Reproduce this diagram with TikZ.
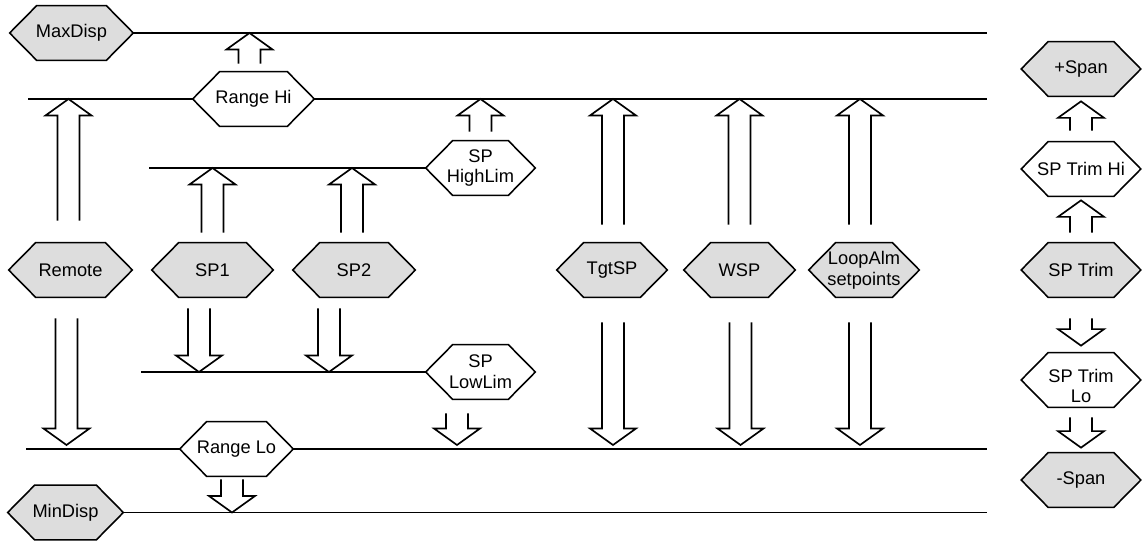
\documentclass[tikz,border=0pt]{standalone}
\usepackage{fontspec}
\setmainfont{Liberation Sans}
\usetikzlibrary{calc,backgrounds}
\definecolor{hexgray}{RGB}{221,221,221}
\newcommand\arrsw{0.22cm}
\newcommand\arrhw{0.46cm}
\newcommand\arrhl{0.33cm}
% block arrows: #1 foot of the shaft, #2 point the tip reaches
\newcommand\arrup[2]{\draw[blk] let \p1=#1, \p2=#2 in
  (\x1-\arrsw,\y1) -- (\x1-\arrsw,\y2-\arrhl) -- (\x1-\arrhw,\y2-\arrhl) -- (\x1,\y2)
  -- (\x1+\arrhw,\y2-\arrhl) -- (\x1+\arrsw,\y2-\arrhl) -- (\x1+\arrsw,\y1);}
\newcommand\arrdn[2]{\draw[blk] let \p1=#1, \p2=#2 in
  (\x1-\arrsw,\y1) -- (\x1-\arrsw,\y2+\arrhl) -- (\x1-\arrhw,\y2+\arrhl) -- (\x1,\y2)
  -- (\x1+\arrhw,\y2+\arrhl) -- (\x1+\arrsw,\y2+\arrhl) -- (\x1+\arrsw,\y1);}
\begin{document}
\begin{tikzpicture}[x=0.02cm, y=0.02cm,
  every node/.style={font=\fontsize{10.4pt}{11.8pt}\selectfont},
  hexn/.style={minimum height=1.08cm, inner sep=0pt, align=center},
  hexline/.style={draw, line width=0.9pt},
  ln/.style={line width=1pt},
  blk/.style={line width=0.95pt}]
\useasboundingbox (0,0) rectangle (1142,541);
% setpoint sources and limits
\node[hexn,minimum width=2.46cm] (maxdisp) at (71.5,508) {MaxDisp};
\node[hexn,minimum width=2.42cm] (rangehi) at (253.5,442) {Range Hi};
\node[hexn,minimum width=2.46cm] (remote) at (70.5,271) {Remote};
\node[hexn,minimum width=2.42cm] (sp1) at (212.5,271) {SP1};
\node[hexn,minimum width=2.44cm] (sp2) at (354,271) {SP2};
\node[hexn,minimum width=2.18cm] (highlim) at (480.5,373) {SP\\HighLim};
\node[hexn,minimum width=2.18cm] (lowlim) at (480.5,169) {SP\\LowLim};
\node[hexn,minimum width=2.20cm] (tgtsp) at (612,271) {TgtSP};
\node[hexn,minimum width=2.22cm] (wsp) at (739.5,271) {WSP};
\node[hexn,minimum width=2.20cm] (loopalm) at (864,271) {LoopAlm\\setpoints};
\node[hexn,minimum width=2.26cm] (rangelo) at (236.5,92) {Range Lo};
\node[hexn,minimum width=2.30cm] (mindisp) at (65.5,28.5) {MinDisp};
% trim column
\node[hexn,minimum width=2.38cm] (plusspan) at (1081,472) {+Span};
\node[hexn,minimum width=2.38cm] (trimhi) at (1081,372) {SP Trim Hi};
\node[hexn,minimum width=2.38cm] (trim) at (1081,271) {SP Trim};
\node[hexn,minimum width=2.38cm,text height=26pt,text depth=0pt] (trimlo) at (1081,161) {SP Trim\\Lo};
\node[hexn,minimum width=2.38cm] (minusspan) at (1081,61) {-Span};
% hexagon outlines behind the texts
\begin{scope}[on background layer]
\foreach \n/\c in {maxdisp/hexgray,rangehi/white,remote/hexgray,sp1/hexgray,sp2/hexgray,
    highlim/white,lowlim/white,tgtsp/hexgray,wsp/hexgray,loopalm/hexgray,rangelo/white,
    mindisp/hexgray,plusspan/hexgray,trimhi/white,trim/hexgray,trimlo/white,minusspan/hexgray}
  \draw[hexline,fill=\c] (\n.west) -- ($(\n.north west)+(27,0)$) -- ($(\n.north east)+(-27,0)$)
    -- (\n.east) -- ($(\n.south east)+(-27,0)$) -- ($(\n.south west)+(27,0)$) -- cycle;
\end{scope}
% limit lines
\coordinate (maxR) at (987,508);
\coordinate (hiL) at (28,442);
\coordinate (hiR) at (987,442);
\coordinate (hlL) at (149,373);
\coordinate (llL) at (141,169);
\coordinate (loL) at (26,92);
\coordinate (loR) at (987,92);
\coordinate (minR) at (987,28.5);
\draw[ln] (maxdisp.east) -- (maxR);
\draw[ln] (hiL) -- (rangehi.west);
\draw[ln] (rangehi.east) -- (hiR);
\draw[ln] (hlL) -- (highlim.west);
\draw[ln] (llL) -- (lowlim.west);
\draw[ln] (loL) -- (rangelo.west);
\draw[ln] (rangelo.east) -- (loR);
\draw[ln] (mindisp.east) -- (minR);
% up arrows
\arrup{($(rangehi.north)+(-4,8)$)}{(maxR)}
\arrup{($(remote.north)+(-2,22)$)}{(hiL)}
\arrup{($(sp1.north)+(0,10)$)}{(hlL)}
\arrup{($(sp2.north)+(-2,10)$)}{(hlL)}
\arrup{($(highlim.north)+(0,9)$)}{(hiR)}
\arrup{($(tgtsp.north)+(1,18)$)}{(hiR)}
\arrup{($(wsp.north)+(0,18)$)}{(hiR)}
\arrup{($(loopalm.north)+(-4,18)$)}{(hiR)}
\arrup{($(trimhi.north)+(0,11)$)}{($(plusspan.south)+(0,-5)$)}
\arrup{($(trim.north)+(0,10)$)}{($(trimhi.south)+(0,-4)$)}
% down arrows
\arrdn{($(remote.south)+(-4,-21)$)}{($(loL)+(0,4)$)}
\arrdn{($(sp1.south)+(-13.5,-11)$)}{(llL)}
\arrdn{($(sp2.south)+(-25,-11)$)}{(llL)}
\arrdn{($(lowlim.south)+(-23.5,-14)$)}{($(loR)+(0,4)$)}
\arrdn{($(rangelo.south)+(-4.5,-3)$)}{(minR)}
\arrdn{($(tgtsp.south)+(1,-25)$)}{($(loR)+(0,4)$)}
\arrdn{($(wsp.south)+(1,-25)$)}{($(loR)+(0,4)$)}
\arrdn{($(loopalm.south)+(-4,-25)$)}{($(loR)+(0,4)$)}
\arrdn{($(trim.south)+(0,-21)$)}{($(trimlo.north)+(0,7)$)}
\arrdn{($(trimlo.south)+(0,-10)$)}{($(minusspan.north)+(0,5)$)}
\end{tikzpicture}
\end{document}
